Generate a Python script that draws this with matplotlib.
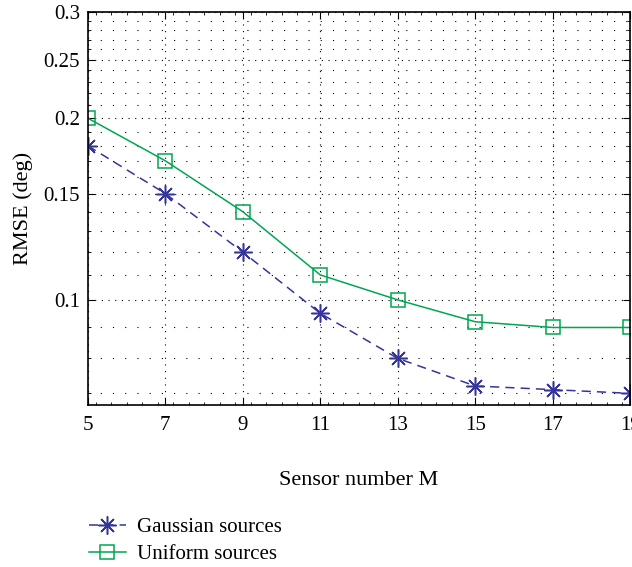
import numpy as np
import matplotlib.pyplot as plt
from matplotlib.ticker import FixedLocator, NullFormatter, MultipleLocator

plt.rcParams['font.family'] = ['Liberation Serif', 'DejaVu Serif']

# sensor number M
sensors = [5, 7, 9, 11, 13, 15, 17, 19]
# RMSE (deg) for each source type
gaussian = [0.18, 0.15, 0.12, 0.095, 0.08, 0.072, 0.071, 0.070]
uniform = [0.20, 0.17, 0.14, 0.11, 0.10, 0.092, 0.090, 0.090]

y_major = [0.1, 0.15, 0.2, 0.25, 0.3]
y_labels = ["0.1", "0.15", "0.2", "0.25", "0.3"]
y_minor = [round(v, 2) for v in np.arange(0.07, 0.295, 0.01)]

blue = "#35359a"
green = "#00a651"

fig = plt.figure(figsize=(6.32, 5.67), dpi=100)
ax = fig.add_axes([0.139, 0.286, 0.858, 0.693])

ax.plot(sensors, gaussian, color=blue, linestyle=(0, (6, 4)), linewidth=1.1,
        marker=(8, 2, 0), markersize=13, markeredgewidth=1.1,
        label="Gaussian sources")
ax.plot(sensors, uniform, color=green, linestyle='-', linewidth=1.1,
        marker='s', markersize=10, markerfacecolor='none', markeredgewidth=1.1,
        label="Uniform sources")

ax.set_yscale('log')
ax.set_ylim(0.067, 0.3)
ax.set_xlim(5, 19)
ax.set_xticks(sensors)
ax.xaxis.set_minor_locator(MultipleLocator(0.4))
ax.yaxis.set_major_locator(FixedLocator(y_major))
ax.set_yticklabels(y_labels)
ax.yaxis.set_minor_locator(FixedLocator(y_minor))
ax.yaxis.set_minor_formatter(NullFormatter())

ax.grid(True, which='major', linestyle=(0, (1, 5)), color='black', linewidth=0.8)
ax.grid(True, which='minor', axis='y', linestyle=(0, (1, 10)), color='black', linewidth=0.8)

ax.tick_params(which='both', direction='in', top=True, right=True, labelsize=15)
ax.tick_params(which='major', length=5)
ax.tick_params(which='minor', length=2.5)
ax.tick_params(axis='x', pad=8)
ax.tick_params(axis='y', pad=5.5)
for s in ax.spines.values():
    s.set_linewidth(1.2)

ax.set_xlabel("Sensor number M", fontsize=16, labelpad=26)
ax.set_ylabel("RMSE (deg)", fontsize=16, labelpad=8)

fig.legend(loc='upper left', bbox_to_anchor=(0.127, 0.102), frameon=False,
           fontsize=15, handlelength=1.8, labelspacing=0.35, handletextpad=0.5,
           borderaxespad=0)

fig.savefig("out.png", dpi=100)
